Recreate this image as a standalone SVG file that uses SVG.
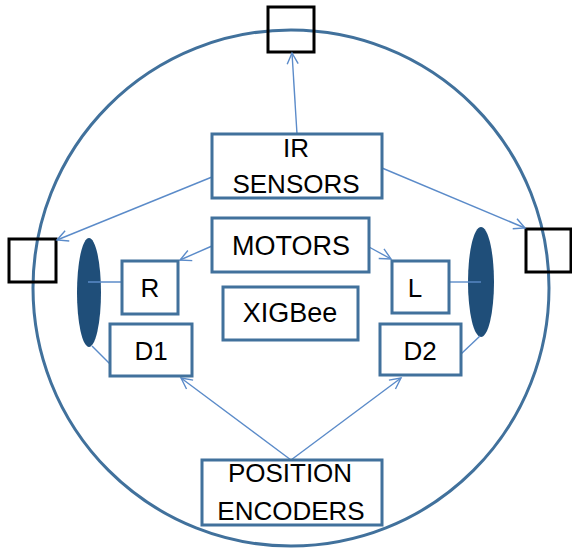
<svg xmlns="http://www.w3.org/2000/svg" width="572" height="548" viewBox="0 0 572 548">
<style>
.box{fill:#fff;stroke:#41719C;stroke-width:3}
.sq{fill:none;stroke:#000;stroke-width:3}
.lbl{font-family:"Liberation Sans",Arial,sans-serif;font-size:26px;fill:#000;text-anchor:middle}
.con{stroke:#5B8BC9;stroke-width:1.4;fill:none}
.arr{marker-end:url(#ah)}
.wheel{fill:#1F4E79}
</style>
<defs>
<marker id="ah" markerUnits="userSpaceOnUse" markerWidth="14" markerHeight="14" viewBox="0 0 14 14" refX="12" refY="7" orient="auto">
<path d="M1,1.5 L12,7 L1,12.5" fill="none" stroke="#5B8BC9" stroke-width="1.4"/>
</marker>
</defs>
<rect width="572" height="548" fill="#fff"/>
<g id="body"><circle cx="291" cy="288" r="258" fill="none" stroke="#41719C" stroke-width="3"/></g>
<g id="sensor-top"><rect class="sq" x="268" y="7" width="46" height="45"/></g>
<g id="sensor-left"><rect class="sq" x="9" y="239" width="47" height="43"/></g>
<g id="sensor-right"><rect class="sq" x="526" y="229" width="45" height="43"/></g>
<g id="wheel-left"><ellipse class="wheel" cx="89" cy="292.5" rx="12" ry="54.5"/></g>
<g id="wheel-right"><ellipse class="wheel" cx="481" cy="282" rx="13" ry="55"/></g>
<g id="connectors">
<line class="con arr" x1="297" y1="134" x2="292" y2="53"/>
<line class="con arr" x1="212" y1="177" x2="57" y2="240"/>
<line class="con arr" x1="382" y1="168" x2="525" y2="228"/>
<line class="con arr" x1="212" y1="246" x2="180" y2="260"/>
<line class="con arr" x1="369" y1="247" x2="391" y2="259"/>
<line class="con" x1="88" y1="282" x2="122" y2="282"/>
<line class="con" x1="92" y1="346" x2="110" y2="364"/>
<line class="con" x1="449" y1="282" x2="481" y2="282"/>
<line class="con" x1="461" y1="354" x2="480" y2="336"/>
<line class="con arr" x1="291" y1="460" x2="181" y2="378"/>
<line class="con arr" x1="291" y1="460" x2="401" y2="378"/>
</g>
<g id="ir-sensors"><rect class="box" x="212" y="134" width="170" height="64"/><text class="lbl" x="296" y="157">IR</text><text class="lbl" x="296" y="193">SENSORS</text></g>
<g id="motors"><rect class="box" x="212" y="218" width="157" height="54"/><text class="lbl" x="291" y="255" style="font-size:27px">MOTORS</text></g>
<g id="xigbee"><rect class="box" x="223" y="287" width="135" height="53"/><text class="lbl" x="290" y="322" style="font-size:27px">XIGBee</text></g>
<g id="r"><rect class="box" x="122" y="261" width="56" height="53"/><text class="lbl" x="150" y="297">R</text></g>
<g id="d1"><rect class="box" x="110" y="324" width="82" height="52"/><text class="lbl" x="151" y="360">D1</text></g>
<g id="l"><rect class="box" x="392" y="261" width="57" height="52"/><text class="lbl" x="415" y="297">L</text></g>
<g id="d2"><rect class="box" x="380" y="324" width="81" height="51"/><text class="lbl" x="420" y="360">D2</text></g>
<g id="position-encoders"><rect class="box" x="202" y="460" width="180" height="65"/><text class="lbl" x="290" y="482">POSITION</text><text class="lbl" x="291" y="520">ENCODERS</text></g>
</svg>
